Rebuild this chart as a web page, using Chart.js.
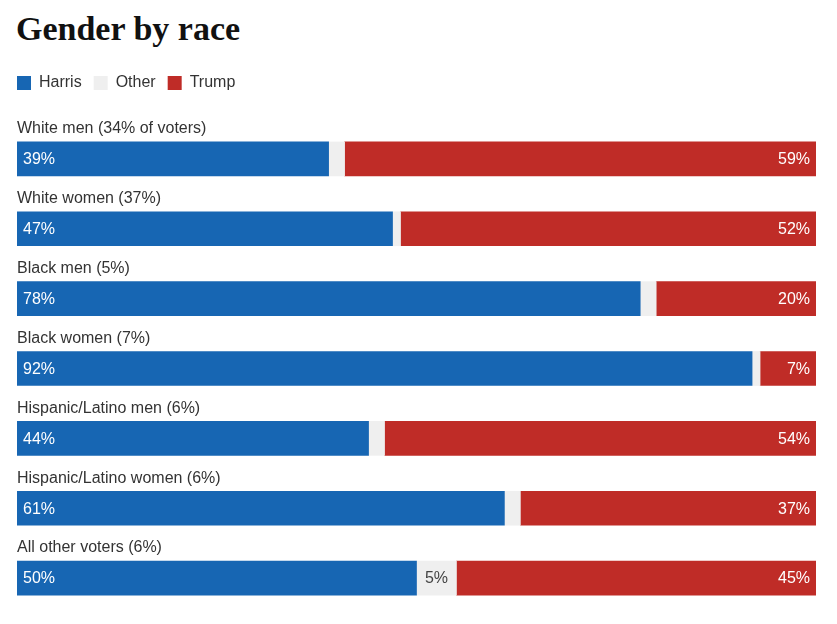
<!DOCTYPE html>
<html>
<head>
<meta charset="utf-8">
<script src="https://cdn.jsdelivr.net/npm/chart.js@4.4.1/dist/chart.umd.min.js"></script>
<style>
  body { margin: 0; background: #fff; width: 837px; height: 624px; overflow: hidden; position: relative; }
  h1 { position: absolute; left: 16px; top: 10px; margin: 0; font-family: "Liberation Serif", "DejaVu Serif", serif; font-weight: bold; font-size: 34px; color: #111; }
  #wrap { position: absolute; left: 0; top: 63px; width: 837px; height: 550px; }
</style>
</head>
<body>
<h1>Gender by race</h1>
<div id="wrap"><canvas id="grafico"></canvas></div>
<script>
// datos del gráfico
const categorias = ['White men (34% of voters)', 'White women (37%)', 'Black men (5%)', 'Black women (7%)',
    'Hispanic/Latino men (6%)', 'Hispanic/Latino women (6%)', 'All other voters (6%)'];
const harris = [39, 47, 78, 92, 44, 61, 50];
const otro = [2, 1, 2, 1, 2, 2, 5];
const trump = [59, 52, 20, 7, 54, 37, 45];

const fuente = '"Liberation Sans", Arial, sans-serif';

// etiquetas de categoría encima de cada barra y valores dentro
const etiquetasPlugin = {
    id: 'etiquetas',
    afterDatasetsDraw(chart) {
        const ctx = chart.ctx;
        ctx.save();
        ctx.font = '16px ' + fuente;
        ctx.textBaseline = 'middle';

        const metaH = chart.getDatasetMeta(0);
        metaH.data.forEach(function(bar, i) {
            const top = bar.y - bar.height / 2;
            ctx.fillStyle = '#333';
            ctx.textAlign = 'left';
            ctx.fillText(categorias[i], 17, top - 13);
        });

        chart.data.datasets.forEach(function(ds, d) {
            const meta = chart.getDatasetMeta(d);
            meta.data.forEach(function(bar, i) {
                const v = ds.data[i];
                const txt = v + '%';
                if (d === 0) {
                    ctx.fillStyle = '#fff';
                    ctx.textAlign = 'left';
                    ctx.fillText(txt, bar.base + 6, bar.y + 1);
                } else if (d === 2) {
                    ctx.fillStyle = '#fff';
                    ctx.textAlign = 'right';
                    ctx.fillText(txt, bar.x - 6, bar.y + 1);
                } else if (v >= 5) {
                    ctx.fillStyle = '#444';
                    ctx.textAlign = 'center';
                    ctx.fillText(txt, (bar.x + bar.base) / 2, bar.y + 1);
                }
            });
        });
        ctx.restore();
    }
};

const ctx = document.getElementById('grafico').getContext('2d');
const chart = new Chart(ctx, {
    type: 'bar',
    data: {
        labels: categorias,
        datasets: [{
            label: 'Harris',
            data: harris,
            backgroundColor: '#1766b3'
        }, {
            label: 'Other',
            data: otro,
            backgroundColor: '#efefef'
        }, {
            label: 'Trump',
            data: trump,
            backgroundColor: '#bf2c27'
        }]
    },
    options: {
        indexAxis: 'y',
        responsive: true,
        maintainAspectRatio: false,
        animation: false,
        datasets: { bar: { barThickness: 34, borderWidth: 0 } },
        layout: { padding: { left: 5, right: 21, top: 0, bottom: 0 } },
        plugins: {
            tooltip: { enabled: false },
            legend: {
                position: 'top',
                align: 'start',
                labels: {
                    boxWidth: 14,
                    boxHeight: 14,
                    padding: 12,
                    color: '#333',
                    font: { family: fuente, size: 16 }
                }
            }
        },
        scales: {
            x: {
                stacked: true,
                min: 0,
                max: 100,
                position: 'top',
                ticks: { display: false },
                grid: { display: false },
                border: { display: false },
                afterFit: function(scale) { scale.height = 23; }
            },
            y: {
                stacked: true,
                ticks: { display: false },
                grid: { display: false },
                border: { display: false },
                afterFit: function(scale) { scale.width = 12; }
            }
        }
    },
    plugins: [etiquetasPlugin]
});
</script>
</body>
</html>
